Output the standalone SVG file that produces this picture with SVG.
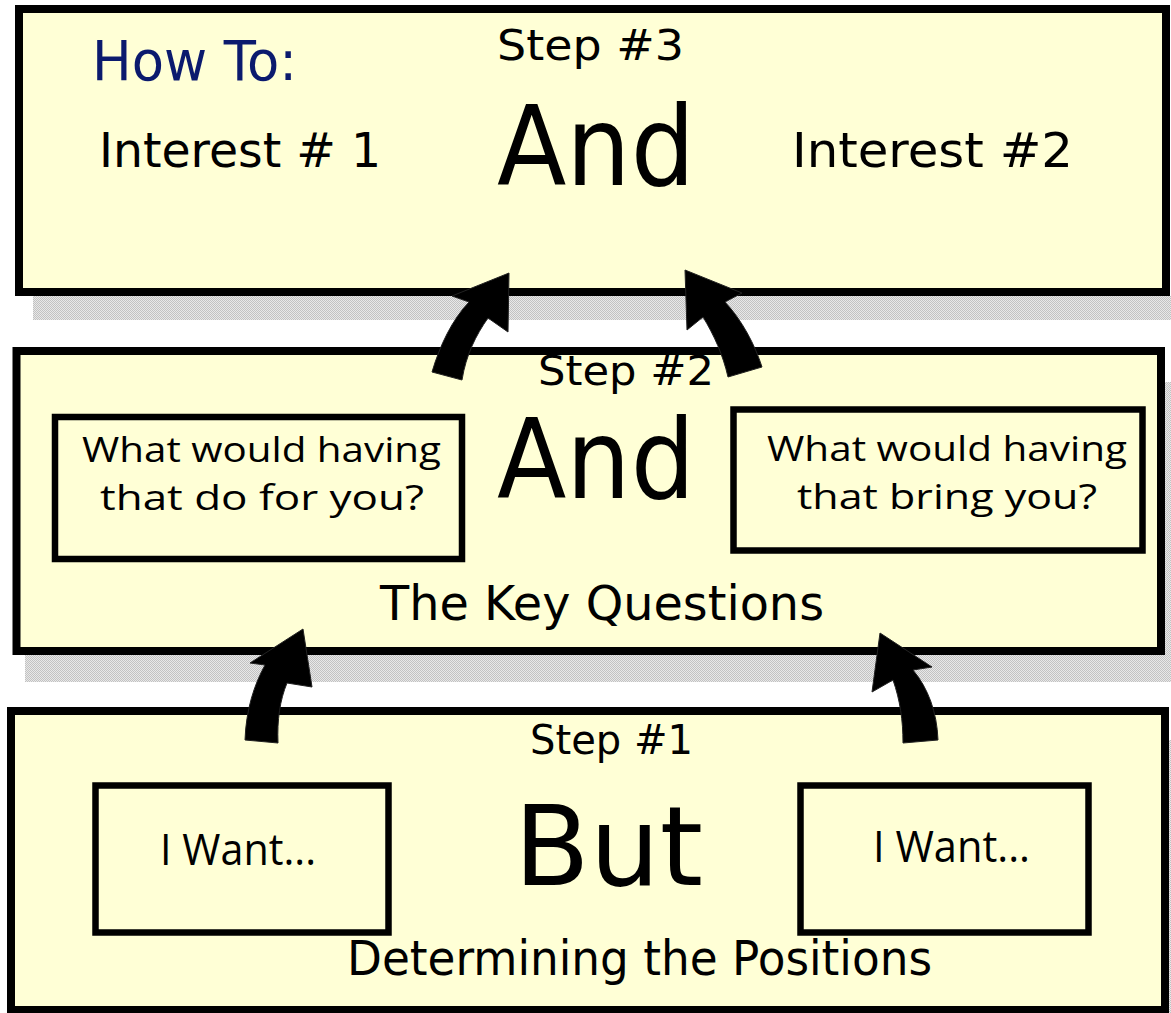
<svg xmlns="http://www.w3.org/2000/svg" width="1171" height="1013" viewBox="0 0 1171 1013">
<defs>
<pattern id="dots" width="2" height="2" patternUnits="userSpaceOnUse">
<rect width="2" height="2" fill="#e8e8e8"/>
<rect width="1" height="1" fill="#c2c2c2"/>
<rect x="1" y="1" width="1" height="1" fill="#c2c2c2"/>
</pattern>
<style>
.shadow{fill:url(#dots);stroke:none}
.box{fill:#ffffd6;stroke:#000;stroke-width:8}
.inner{fill:#ffffd6;stroke:#000;stroke-width:6.5}
.arrow{fill:#000;stroke:#222;stroke-width:1}
.t{font-family:"DejaVu Sans",sans-serif;fill:#000}
.q{font-family:"Open Sans","DejaVu Sans",sans-serif;fill:#000}
</style>
</defs>
<rect width="1171" height="1013" fill="#fff"/>
<g id="shadows">
<rect class="shadow" x="33" y="296" width="1138" height="24"/>
<rect class="shadow" x="1165" y="382" width="6" height="300"/>
<rect class="shadow" x="25" y="655" width="1146" height="27"/>
<rect class="shadow" x="1168" y="740" width="3" height="273"/>
</g>
<g id="step3">
<rect class="box" x="19" y="9" width="1147" height="283"/>
<text class="t" x="92" y="80" font-size="56" style="fill:#0b1a6e" textLength="205" lengthAdjust="spacingAndGlyphs">How To:</text>
<text class="t" x="497" y="60" font-size="42" textLength="187" lengthAdjust="spacingAndGlyphs">Step #3</text>
<text class="t" x="99" y="167" font-size="48" textLength="282" lengthAdjust="spacingAndGlyphs">Interest # 1</text>
<text class="t" x="497" y="185" font-size="110" textLength="198" lengthAdjust="spacingAndGlyphs">And</text>
<text class="t" x="792" y="167" font-size="48" textLength="281" lengthAdjust="spacingAndGlyphs">Interest #2</text>
</g>
<g id="step2">
<rect class="box" x="16.5" y="351" width="1144.5" height="300"/>
<text class="t" x="538" y="385" font-size="40" textLength="176" lengthAdjust="spacingAndGlyphs">Step #2</text>
<text class="t" x="497" y="498" font-size="110" textLength="198" lengthAdjust="spacingAndGlyphs">And</text>
<text class="t" x="380" y="620" font-size="48" textLength="444" lengthAdjust="spacingAndGlyphs">The Key Questions</text>
</g>
<g id="q1">
<rect class="inner" x="55" y="417" width="407" height="142"/>
<text class="q" x="82" y="462" font-size="35" textLength="359" lengthAdjust="spacingAndGlyphs">What would having</text>
<text class="q" x="100" y="510" font-size="35" textLength="324" lengthAdjust="spacingAndGlyphs">that do for you?</text>
</g>
<g id="q2">
<rect class="inner" x="733.5" y="409.5" width="409" height="141"/>
<text class="q" x="767" y="461" font-size="35" textLength="360" lengthAdjust="spacingAndGlyphs">What would having</text>
<text class="q" x="797" y="509" font-size="35" textLength="300" lengthAdjust="spacingAndGlyphs">that bring you?</text>
</g>
<g id="step1">
<rect class="box" x="11" y="711" width="1154" height="299"/>
<text class="t" x="530" y="754" font-size="40" textLength="163" lengthAdjust="spacingAndGlyphs">Step #1</text>
<text class="t" x="514" y="885" font-size="110" textLength="189" lengthAdjust="spacingAndGlyphs">But</text>
<text class="t" x="347" y="975" font-size="48" textLength="585" lengthAdjust="spacingAndGlyphs">Determining the Positions</text>
</g>
<g id="want1">
<rect class="inner" x="95.5" y="785.5" width="293" height="147"/>
<text class="q" x="160" y="865" font-size="44" textLength="156" lengthAdjust="spacingAndGlyphs">I Want...</text>
</g>
<g id="want2">
<rect class="inner" x="800.5" y="785.5" width="288" height="147"/>
<text class="q" x="873" y="862" font-size="44" textLength="157" lengthAdjust="spacingAndGlyphs">I Want...</text>
</g>
<g id="connectors">
<path class="arrow" d="M 432 372 C 440 345, 452 320, 469 302 L 452 296 L 509 273 L 508 332 L 488 318 C 476 335, 466 355, 462 380 Z"/>
<path class="arrow" d="M 762 367 C 755 345, 742 320, 725 302 L 742 293 L 685 270 L 687 330 L 703 317 C 714 335, 723 355, 728 377 Z"/>
<path class="arrow" d="M 245 740 C 246 710, 254 685, 265 665 L 250 663 L 303 629 L 312 687 L 287 683 C 280 700, 277 720, 278 743 Z"/>
<path class="arrow" d="M 938 740 C 937 712, 928 688, 913 670 L 932 667 L 880 633 L 872 692 L 893 680 C 900 700, 903 720, 903 743 Z"/>
</g>
</svg>
